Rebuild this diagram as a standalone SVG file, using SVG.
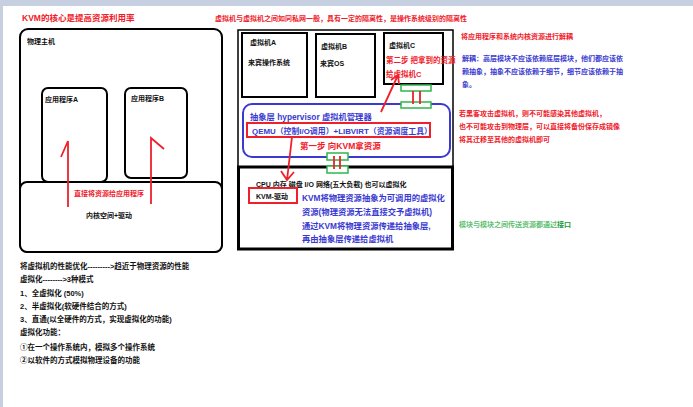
<svg xmlns="http://www.w3.org/2000/svg" width="693" height="407" viewBox="0 0 693 407">
<defs>
<style>
text{font-family:"Liberation Sans","Noto Sans CJK SC",sans-serif;font-weight:bold}
.k{fill:#111;font-size:7px}
.r{fill:#f0202a;font-size:7px}
.b{fill:#3a3ad0;font-size:7px}
.bb{fill:#3a3ad0;font-size:8.3px}
.g{fill:#5cc070;font-size:7px}
.box{fill:#fff;stroke:#000;stroke-width:2}
.gr{fill:#fff;stroke:#2eb84a;stroke-width:1.5}
.rl{stroke:#f0202a;stroke-width:1.8;fill:none}
.rr{fill:none;stroke:#f0202a;stroke-width:2}
</style>
</defs>
<rect x="0" y="0" width="693" height="407" fill="#fff"/>
<rect x="0" y="0" width="693" height="6" fill="#c7d0e0"/>
<rect x="0" y="0" width="3" height="407" fill="#c7d0e0"/>

<text x="22" y="21" style="fill:#f0202a;font-size:8.5px">KVM的核心是提高资源利用率</text>
<text x="215" y="21" class="r">虚拟机与虚拟机之间如同私网一般，具有一定的隔离性，是操作系统级别的隔离性</text>

<g id="host">
<rect x="20" y="29" width="202" height="223" rx="8" class="box"/>
<text x="27" y="44" class="k">物理主机</text>
</g>
<g id="appA">
<rect x="42" y="88" width="65" height="94" rx="6" class="box"/>
<text x="45" y="102" class="k">应用程序A</text>
</g>
<g id="appB">
<rect x="125" y="88" width="62" height="90" rx="6" class="box"/>
<text x="131" y="101" class="k">应用程序B</text>
</g>
<g id="kernel">
<rect x="20" y="182" width="202" height="70" rx="7" class="box"/>
<text x="86" y="218" class="k">内核空间+驱动</text>
</g>
<text x="74" y="196" class="r">直接将资源给应用程序</text>

<g id="vmhost">
<rect x="238" y="30" width="215" height="137" fill="#fff" stroke="#000" stroke-width="1.5"/>
<rect x="238.5" y="167" width="214" height="82" fill="#fff" stroke="#000" stroke-width="3"/>
</g>
<g id="vmA">
<rect x="242" y="33" width="65" height="64" class="box"/>
<text x="250" y="45" class="k">虚拟机A</text>
<text x="248" y="65" class="k">来宾操作系统</text>
</g>
<g id="vmB">
<rect x="316" y="34" width="59" height="63" class="box"/>
<text x="321" y="49" class="k">虚拟机B</text>
<text x="320" y="66" class="k">来宾OS</text>
</g>
<g id="vmC">
<rect x="384" y="33" width="59" height="51" class="box"/>
<text x="389" y="48" class="k">虚拟机C</text>
<text x="386" y="63" class="r" style="font-size:7.5px">第二步 把拿到的资源</text>
<text x="386" y="77" class="r" style="font-size:7.5px">给虚拟机C</text>
</g>
<g id="hypervisor">
<rect x="243" y="104" width="207" height="53" rx="9" fill="#fff" stroke="#3a3ad0" stroke-width="2"/>
<text x="250" y="120" class="bb">抽象层 hypervisor 虚拟机管理器</text>
<rect x="247" y="123" width="183" height="14" class="rr"/>
<text x="252" y="133.5" class="bb" style="font-size:7.9px">QEMU（控制I/O调用）+LIBVIRT（资源调度工具）</text>
<text x="300" y="149" class="r" style="font-size:8.5px">第一步  向KVM拿资源</text>
</g>
<g id="kvm">
<text x="256" y="187" class="k">CPU 内存 磁盘 I/O 网络(五大负载) 也可以虚拟化</text>
<rect x="249" y="188" width="48" height="15" class="rr"/>
<text x="256" y="199" class="k">KVM-驱动</text>
<text x="302" y="201" class="bb">KVM将物理资源抽象为可调用的虚拟化</text>
<text x="302" y="215" class="bb">资源(物理资源无法直接交予虚拟机)</text>
<text x="302" y="229" class="bb">通过KVM将物理资源传递给抽象层,</text>
<text x="302" y="242" class="bb">再由抽象层传递给虚拟机</text>
</g>

<g id="connectors">
<path d="M68,207 L68,141 M61,157 L68,141" class="rl"/>
<path d="M151,204 L151,138 L164,149" class="rl"/>
<rect x="401" y="85" width="30" height="6" class="gr"/>
<rect x="401" y="102" width="30" height="6" class="gr"/>
<path d="M413,91 L413,104 M420,91 L420,104" class="rl"/>
<rect x="327" y="153" width="21" height="7" class="gr"/>
<rect x="327" y="166" width="21" height="7" class="gr"/>
<path d="M334,156 L334,169 M340,156 L340,169" class="rl"/>
<path d="M292,137 L287,180 M281,171 L287,180 L294,172" class="rl"/>
<path d="M381,112 L398,75 M391,80 L398,75 L399,84" class="rl"/>
</g>

<g id="notes">
<text x="461" y="39" class="r">将应用程序和系统内核资源进行解耦</text>
<text x="462" y="61" class="b">解耦：高层模块不应该依赖底层模块，他们都应该依</text>
<text x="462" y="74" class="b">赖抽象，抽象不应该依赖于细节，细节应该依赖于抽</text>
<text x="462" y="87" class="b">象。</text>
<text x="459" y="116" class="r">若黑客攻击虚拟机，则不可能感染其他虚拟机，</text>
<text x="459" y="129" class="r">也不可能攻击到物理层，可以直接将备份保存成镜像</text>
<text x="459" y="142" class="r">将其迁移至其他的虚拟机即可</text>
<text x="459" y="227" class="g">模块与模块之间传送资源都通过<tspan style="fill:#1a9a3a">接口</tspan></text>
</g>

<g id="bottom">
<text x="20" y="269" class="k" style="font-size:7.5px">将虚拟机的性能优化--------->趋近于物理资源的性能</text>
<text x="20" y="282" class="k" style="font-size:7.5px">虚拟化-------->3种模式</text>
<text x="20" y="296" class="k" style="font-size:7.5px">1、全虚拟化 (50%)</text>
<text x="20" y="309" class="k" style="font-size:7.5px">2、半虚拟化(软硬件结合的方式)</text>
<text x="20" y="322" class="k" style="font-size:7.5px">3、直通(以全硬件的方式，实现虚拟化的功能)</text>
<text x="20" y="335" class="k" style="font-size:7.5px">虚拟化功能：</text>
<text x="20" y="350" class="k" style="font-size:7.5px">①在一个操作系统内，模拟多个操作系统</text>
<text x="20" y="363" class="k" style="font-size:7.5px">②以软件的方式模拟物理设备的功能</text>
</g>
</svg>
